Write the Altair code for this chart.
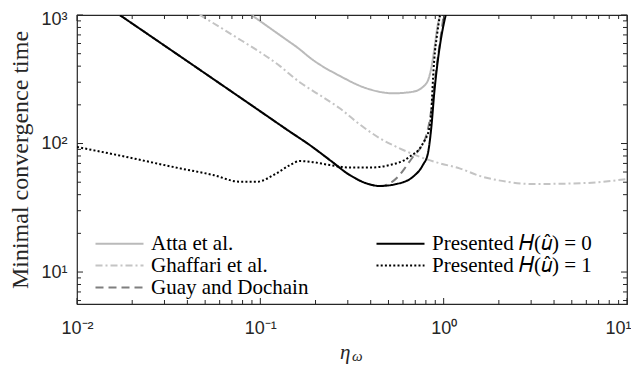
import altair as alt
import pandas as pd

# ---- data ----
atta_x = [0.0895, 0.139, 0.157, 0.194, 0.271, 0.379, 0.53, 0.681, 0.805, 0.86, 0.888, 0.93, 0.96]
atta_y = [1000, 641, 567, 446, 336, 269, 246, 253, 294, 400, 535, 850, 1000]

ghaf_x = [0.0468, 0.0682, 0.128, 0.164, 0.211, 0.271, 0.348, 0.448, 0.575, 0.739, 0.95, 1.22, 1.57, 2.2, 3.05, 6.0, 10.0]
ghaf_y = [1000, 720, 400, 300, 238, 188, 141, 110, 91.8, 78.9, 70.2, 64.1, 56, 50.5, 48.4, 49.3, 53]

guay_x = [0.0171, 0.05, 0.1, 0.145, 0.186, 0.239, 0.307, 0.379, 0.448, 0.508, 0.575, 0.613, 0.681, 0.755, 0.788, 0.839, 0.88, 0.91, 0.96, 1.0]
guay_y = [1000, 351, 178, 123.6, 97.3, 74.5, 56.9, 49, 46.7, 49, 56.9, 64.1, 78.9, 94.5, 106, 152, 250, 373, 650, 1000]

p0_x = [0.0171, 0.05, 0.1, 0.145, 0.186, 0.239, 0.307, 0.379, 0.448, 0.552, 0.681, 0.77, 0.82, 0.857, 0.888, 0.93, 0.975, 1.026]
p0_y = [1000, 351, 178, 123.6, 97.3, 74.5, 56.9, 49, 46.7, 48.4, 55.2, 68, 83.6, 135, 245, 446, 700, 1000]

p1_x = [0.01, 0.0165, 0.0364, 0.0553, 0.0773, 0.0953, 0.1225, 0.145, 0.164, 0.186, 0.239, 0.307, 0.395, 0.508, 0.653, 0.77, 0.839, 0.857, 0.875, 0.888, 0.92, 0.955]
p1_y = [94, 81.5, 64.1, 56.9, 50.4, 50.4, 58.6, 68, 73, 72.2, 68, 65, 65, 68, 78.9, 100, 135, 182, 320, 446, 700, 1000]

names = ["Atta et al.", "Ghaffari et al.", "Guay and Dochain", "Presented 𝐻(𝑢̂) = 0", "Presented 𝐻(𝑢̂) = 1"]
colors = ["#bababa", "#c4c4c4", "#7f7f7f", "#000000", "#000000"]
dashes = [[1, 0], [7, 3, 2, 3], [8, 5], [1, 0], [2, 2.2]]

x_major = [0.01, 0.1, 1, 10]
x_labels = ["10⁻²", "10⁻¹", "10⁰", "10¹"]
y_major = [10, 100, 1000]
y_labels = ["10¹", "10²", "10³"]
x_minor = [k * d for d in [0.01, 0.1, 1] for k in range(2, 10)]
y_minor = [k * d for d in [1, 10, 100] for k in range(2, 10) if k * d >= 5.64]

# ---- build table ----
rows = []
for name, xs, ys in [
    (names[0], atta_x, atta_y),
    (names[1], ghaf_x, ghaf_y),
    (names[2], guay_x, guay_y),
    (names[3], p0_x, p0_y),
    (names[4], p1_x, p1_y),
]:
    for i, (a, b) in enumerate(zip(xs, ys)):
        rows.append({"series": name, "eta": a, "T": b, "i": i})
df = pd.DataFrame(rows)

W, H = 550, 289
xs_ = alt.Scale(type="log", domain=[0.01, 10], nice=False)
ys_ = alt.Scale(type="log", domain=[5.64, 1000], nice=False)


def lab_expr(vals, labs):
    parts = " : ".join(f"datum.value == {v} ? '{l}'" for v, l in zip(vals, labs))
    return parts + " : ''"


x_axis = alt.Axis(
    values=x_major, labelExpr=lab_expr(x_major, x_labels), ticks=False,
    grid=False, domain=False, title=None, labelFont="Liberation Sans",
    labelFontSize=18, labelColor="#262626", labelPadding=15, labelFlush=False,
    labelAlign={"condition": {"test": "datum.value == 10", "value": "right"}, "value": "center"},
    labelOffset={"condition": {"test": "datum.value == 10", "value": 4}, "value": 0})
y_axis = alt.Axis(
    values=y_major, labelExpr=lab_expr(y_major, y_labels), ticks=False,
    grid=False, domain=False, title="Minimal convergence time",
    titleFont="Liberation Serif", titleFontSize=24, titleFontWeight="normal",
    titleColor="#262626", titlePadding=8, labelFont="Liberation Sans",
    labelFontSize=18, labelColor="#262626", labelPadding=10, labelFlush=False,
    labelOffset={"condition": {"test": "datum.value == 1000", "value": 4}, "value": 0})

leg = alt.Legend(
    title=None, orient="none", legendX=32, legendY=218, columns=2,
    columnPadding=63, rowPadding=0, symbolType="M-4,0L4,0", symbolSize=144,
    symbolStrokeWidth=2, labelFont="Liberation Serif", labelFontSize=21,
    labelColor="#000000", labelOffset=21, padding=0, labelLimit=400,
)

lines = alt.Chart(df).mark_line(clip=True, strokeWidth=2, interpolate="monotone").encode(
    x=alt.X("eta:Q", scale=xs_, axis=x_axis),
    y=alt.Y("T:Q", scale=ys_, axis=y_axis),
    color=alt.Color("series:N", scale=alt.Scale(domain=names, range=colors), legend=leg),
    strokeDash=alt.StrokeDash("series:N", scale=alt.Scale(domain=names, range=dashes), legend=leg),
    order="i:Q",
)

xt = pd.DataFrame({"v": x_major + x_minor, "len": [6] * len(x_major) + [4] * len(x_minor)})
yt = pd.DataFrame({"v": y_major + y_minor, "len": [6] * len(y_major) + [4] * len(y_minor)})

tick_layers = []
for ln, sel in [(6, "datum.len == 6"), (4, "datum.len == 4")]:
    tick_layers.append(alt.Chart(xt).transform_filter(sel).mark_rule(color="#262626", strokeWidth=1).encode(
        x=alt.X("v:Q", scale=xs_, axis=x_axis), y=alt.value(H), y2=alt.value(H - ln)))
    tick_layers.append(alt.Chart(xt).transform_filter(sel).mark_rule(color="#262626", strokeWidth=1).encode(
        x=alt.X("v:Q", scale=xs_, axis=x_axis), y=alt.value(0), y2=alt.value(ln)))
    tick_layers.append(alt.Chart(yt).transform_filter(sel).mark_rule(color="#262626", strokeWidth=1).encode(
        y=alt.Y("v:Q", scale=ys_, axis=y_axis), x=alt.value(0), x2=alt.value(ln)))
    tick_layers.append(alt.Chart(yt).transform_filter(sel).mark_rule(color="#262626", strokeWidth=1).encode(
        y=alt.Y("v:Q", scale=ys_, axis=y_axis), x=alt.value(W), x2=alt.value(W - ln)))

one = pd.DataFrame({"a": [0]})
eta = alt.Chart(one).mark_text(text="η", font="Liberation Serif", fontStyle="italic",
                                fontSize=21, align="left", baseline="alphabetic", color="#262626").encode(
    x=alt.value(263), y=alt.value(344))
omega = alt.Chart(one).mark_text(text="ω", font="Liberation Serif", fontStyle="italic",
                                  fontSize=15, align="left", baseline="alphabetic", color="#262626").encode(
    x=alt.value(275), y=alt.value(346))

chart = alt.layer(lines, *tick_layers, eta, omega).properties(
    width=W, height=H,
    autosize=alt.AutoSizeParams(type="none"),
    padding={"left": 69, "top": 7, "right": 4, "bottom": 60},
).configure_view(stroke="#262626", strokeWidth=1.2).resolve_scale(x="shared", y="shared")

chart.save("out.html", embed_options={"renderer": "svg", "actions": False})
